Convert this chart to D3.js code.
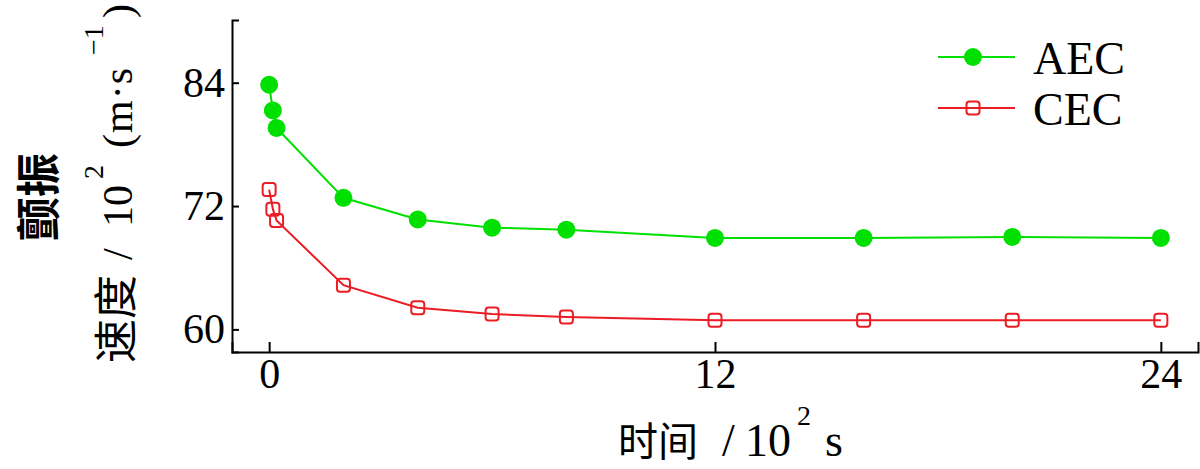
<!DOCTYPE html>
<html>
<head>
<meta charset="utf-8">
<script src="https://cdn.jsdelivr.net/npm/d3@7"></script>
<style>
  body { margin: 0; background: #fff; }
  .chart text { fill: #000; }
</style>
</head>
<body>
<div class="chart"></div>
<script>
// time in 10^2 s, flutter velocity in 10^2 m/s
const time = [0, 0.1, 0.2, 2, 4, 6, 8, 12, 16, 20, 24];
const aec = [83.8, 81.3, 79.6, 72.8, 70.7, 69.9, 69.7, 68.9, 68.9, 69.0, 68.9];
const cec = [73.6, 71.7, 70.6, 64.3, 62.1, 61.5, 61.2, 60.9, 60.9, 60.9, 60.9];
const xTicks = [0, 12, 24];
const yTicks = [60, 72, 84];
const seriesNames = ["AEC", "CEC"];

const W = 1200, H = 469;
const margin = { top: 20, right: 2, bottom: 117, left: 232 };
const width = W - margin.left - margin.right;
const height = H - margin.top - margin.bottom;
const green = "#00e000", red = "#ec1c24";
const serif = "'Liberation Serif', 'Times New Roman', serif";
const cjk = "'Noto Sans CJK SC', sans-serif";

const svg = d3.select(".chart").append("svg")
    .attr("width", W)
    .attr("height", H);
const g = svg.append("g")
    .attr("transform", "translate(" + margin.left + "," + margin.top + ")");

const x = d3.scaleLinear().domain([-1, 25]).range([0, width]);
const y = d3.scaleLinear().domain([57.8, 90.1]).range([height, 0]);

// axes, ticks point inward
const xAxis = g.append("g")
    .attr("transform", "translate(0," + height + ")")
    .call(d3.axisBottom(x).tickValues(xTicks).tickSize(-10).tickPadding(6));
const yAxis = g.append("g")
    .call(d3.axisLeft(y).tickValues(yTicks).tickSize(-7).tickPadding(7));
[xAxis, yAxis].forEach(a => {
    a.selectAll("path, line").attr("stroke", "#000").attr("stroke-width", 2);
    a.selectAll("text").attr("font-family", serif).attr("font-size", 42).attr("fill", "#000");
});

const series = [
    { name: seriesNames[0], values: aec, color: green },
    { name: seriesNames[1], values: cec, color: red }
];

const line = d3.line()
    .x(d => x(d[0]))
    .y(d => y(d[1]));

series.forEach(s => {
    const pts = time.map((t, i) => [t, s.values[i]]);
    g.append("path")
        .datum(pts)
        .attr("fill", "none")
        .attr("stroke", s.color)
        .attr("stroke-width", 2)
        .attr("d", line);
});

// markers
g.selectAll(".dot")
    .data(time.map((t, i) => [t, aec[i]]))
    .enter().append("circle")
    .attr("class", "dot")
    .attr("cx", d => x(d[0]))
    .attr("cy", d => y(d[1]))
    .attr("r", 9)
    .attr("fill", green);

g.selectAll(".sq")
    .data(time.map((t, i) => [t, cec[i]]))
    .enter().append("rect")
    .attr("class", "sq")
    .attr("x", d => x(d[0]) - 6.5)
    .attr("y", d => y(d[1]) - 6.5)
    .attr("width", 13)
    .attr("height", 13)
    .attr("rx", 3)
    .attr("fill", "none")
    .attr("stroke", red)
    .attr("stroke-width", 2);

// legend
const legend = svg.append("g").attr("transform", "translate(938,57)");
series.forEach((s, i) => {
    const row = legend.append("g").attr("transform", "translate(0," + (i * 51) + ")");
    row.append("line")
        .attr("x1", 0).attr("x2", 77)
        .attr("stroke", s.color).attr("stroke-width", 2);
    if (i === 0) {
        row.append("circle").attr("cx", 35).attr("r", 9).attr("fill", s.color);
    } else {
        row.append("rect").attr("x", 28.5).attr("y", -6.5)
            .attr("width", 13).attr("height", 13).attr("rx", 3)
            .attr("fill", "none").attr("stroke", s.color).attr("stroke-width", 2);
    }
    row.append("text")
        .attr("x", 95).attr("y", 17)
        .attr("font-family", serif).attr("font-size", 46)
        .text(s.name);
});

// x axis title
const xt = svg.append("text")
    .attr("y", 456)
    .attr("font-family", serif).attr("font-size", 46);
xt.append("tspan").attr("x", 618).attr("font-family", cjk).attr("font-size", 40).text("时间");
xt.append("tspan").attr("x", 722).text("/");
xt.append("tspan").attr("x", 745).text("10");
xt.append("tspan").attr("x", 797).attr("dy", -31).attr("font-size", 28).text("2");
xt.append("tspan").attr("x", 825).attr("dy", 31).text("s");

// y axis title, two rotated lines
svg.append("text")
    .attr("transform", "translate(55,197) rotate(-90)")
    .attr("text-anchor", "middle")
    .attr("font-family", cjk).attr("font-size", 44).attr("font-weight", 600)
    .text("颤振");

const yt = svg.append("text")
    .attr("transform", "translate(132,363) rotate(-90)")
    .attr("font-family", serif).attr("font-size", 42);
yt.append("tspan").attr("x", 0).attr("font-family", cjk).attr("font-size", 44).text("速度");
yt.append("tspan").attr("x", 103).text("/");
yt.append("tspan").attr("x", 136).text("10");
yt.append("tspan").attr("x", 184).attr("dy", -29).attr("font-size", 28).text("2");
yt.append("tspan").attr("x", 215).attr("dy", 29).attr("letter-spacing", 1).text("(m·s");
yt.append("tspan").attr("x", 308).attr("dy", -29).attr("font-size", 28).text("−1");
yt.append("tspan").attr("x", 345).attr("dy", 29).text(")");
</script>
</body>
</html>
